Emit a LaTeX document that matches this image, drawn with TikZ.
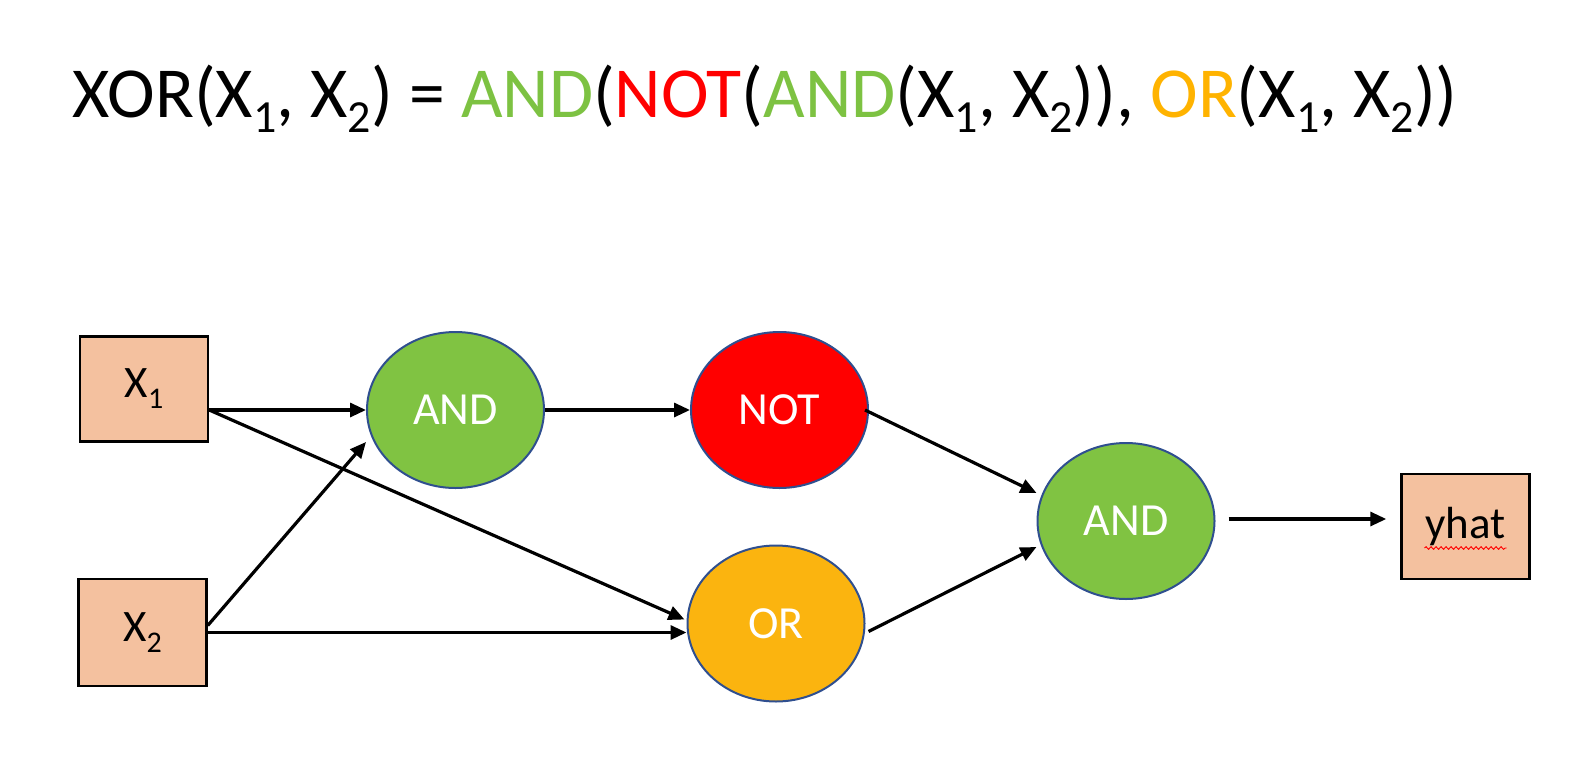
\documentclass[tikz,border=0pt]{standalone}
\usepackage{fontspec}
\setmainfont{Carlito}
\usetikzlibrary{arrows.meta,calc,decorations.pathmorphing,shapes.geometric}
\definecolor{gatgreen}{HTML}{80C342}
\definecolor{gatred}{HTML}{FF0000}
\definecolor{gatorange}{HTML}{FBB40F}
\definecolor{ttlgreen}{HTML}{7DC242}
\definecolor{ttlorange}{HTML}{FFB300}
\definecolor{boxfill}{HTML}{F4C19F}
\definecolor{rimblue}{HTML}{2F4F8F}
\newcommand{\tsub}[1]{\raisebox{-15pt}{\fontsize{46pt}{50pt}\selectfont #1}}
\newcommand{\bsub}[1]{\raisebox{-11pt}{\fontsize{30pt}{32pt}\selectfont #1}}
\begin{document}
\begin{tikzpicture}[x=1pt,y=-1pt,
  inbox/.style={draw=black, line width=2.5pt, fill=boxfill, minimum width=128pt, minimum height=105pt, inner sep=0pt, font=\fontsize{45pt}{48pt}\selectfont},
  gate/.style={ellipse, draw=rimblue, line width=2pt, minimum width=177pt, minimum height=156pt, inner sep=0pt, text=white, font=\fontsize{46pt}{50pt}\selectfont},
  arr/.style={line width=3.2pt, -{Triangle[length=16pt,width=14pt]}}
]
\useasboundingbox (0,0) rectangle (1570,776);

\node[anchor=base west, inner sep=0pt, font=\fontsize{71.8pt}{80pt}\selectfont] (title) at (72,117)
 {XOR(X\tsub{1}, X\tsub{2}) = \textcolor{ttlgreen}{AND}(\textcolor{gatred}{NOT}(\textcolor{ttlgreen}{AND}(X\tsub{1}, X\tsub{2})), \textcolor{ttlorange}{OR}(X\tsub{1}, X\tsub{2}))};

\node[inbox] (x1) at (144,389) {X\bsub{1}};
\node[inbox, minimum height=107pt] (x2) at (142.5,632.5) {X\bsub{2}};
\node[inbox] (yhat) at (1465.5,526.5) {yhat};

\node[gate, fill=gatgreen] (and1) at (455.5,410) {AND};
\node[gate, fill=gatred] (not) at (779.5,410) {NOT};
\node[gate, fill=gatorange] (or) at (776,623.5) {OR};
\node[gate, fill=gatgreen] (and2) at (1126,521) {AND};

\coordinate (sqa) at ($(yhat.center)+(-41,21.5)$);
\coordinate (sqb) at ($(yhat.center)+(41,21.5)$);
\draw[red, line width=0.9pt, decorate, decoration={snake, amplitude=1.3pt, segment length=5pt}] (sqa) -- (sqb);

\draw[arr] (x1.east |- and1.west) -- (and1.west);
\draw[arr] (and1.east) -- (not.west);
\draw[arr] (x1.east |- and1.west) -- ($(or.west)+(-2,-4)$);
\draw[arr] ($(x2.east)+(0,-7)$) -- ($(and1.west)+(0,32)$);
\draw[arr] (x2.east) -- (or.west |- x2.east);
\draw[arr] ($(not.east)+(-4,0)$) -- ($(and2.west)+(0,-28)$);
\draw[arr] ($(or.east)+(3,8)$) -- ($(and2.west)+(0,26)$);
\draw[arr, shorten <=13pt, shorten >=14pt] ($(and2.east)+(0,-2)$) -- ($(yhat.west |- and2.east)+(0,-2)$);
\end{tikzpicture}
\end{document}
